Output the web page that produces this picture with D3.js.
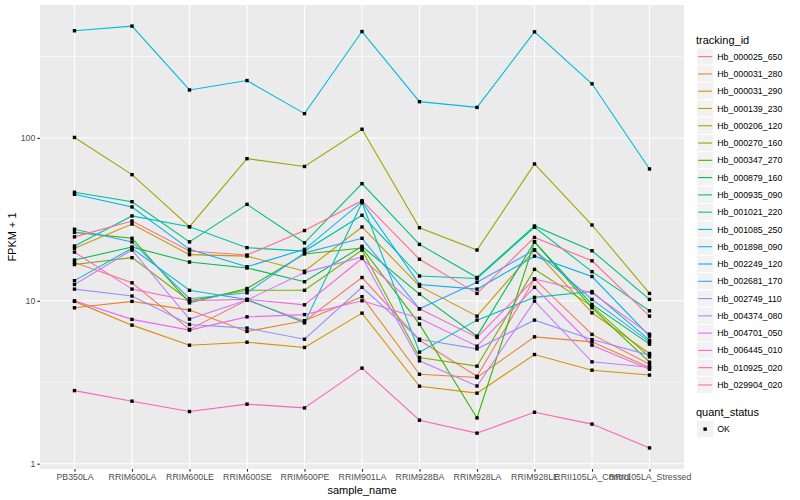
<!DOCTYPE html>
<html><head><meta charset="utf-8">
<script src="https://cdn.jsdelivr.net/npm/d3@7"></script>
<style>
body{margin:0;background:#fff}
svg{display:block}
text{font-family:"Liberation Sans",Arial,Helvetica,sans-serif}
</style>
</head><body>
<svg id="c" width="800" height="500"></svg>
<script>
// ---- data ----
const samples = ["PB350LA","RRIM600LA","RRIM600LE","RRIM600SE","RRIM600PE","RRIM901LA","RRIM928BA","RRIM928LA","RRIM928LE","RRII105LA_Control","RRII105LA_Stressed"];
const trackingIds = ["Hb_000025_650","Hb_000031_280","Hb_000031_290","Hb_000139_230","Hb_000206_120","Hb_000270_160","Hb_000347_270","Hb_000879_160","Hb_000935_090","Hb_001021_220","Hb_001085_250","Hb_001898_090","Hb_002249_120","Hb_002681_170","Hb_002749_110","Hb_004374_080","Hb_004701_050","Hb_006445_010","Hb_010925_020","Hb_029904_020"];
const yTicks = [1, 10, 100];
const quantStatus = ["OK"];

const Hb_000025_650 = [17.2, 12.9, 6.67, 10.1, 7.50, 13.9, 5.73, 3.44, 13.6, 6.22, 4.08];
const Hb_000031_280 = [9.06, 9.92, 8.77, 6.49, 7.54, 10.6, 3.54, 3.38, 6.01, 5.60, 3.90];
const Hb_000031_290 = [9.92, 7.09, 5.34, 5.57, 5.17, 8.40, 2.99, 2.71, 4.68, 3.75, 3.50];
const Hb_000139_230 = [21.0, 29.6, 19.2, 18.8, 15.2, 28.4, 12.3, 8.05, 20.5, 8.44, 4.75];
const Hb_000206_120 = [100.7, 59.5, 28.5, 74.6, 66.8, 113.1, 28.1, 20.5, 69.2, 29.2, 11.1];
const Hb_000270_160 = [16.7, 18.4, 10.0, 11.6, 11.6, 20.5, 4.49, 3.97, 15.6, 9.28, 4.53];
const Hb_000347_270 = [26.3, 24.2, 9.72, 11.9, 19.4, 21.1, 7.19, 1.91, 23.0, 9.06, 4.20];
const Hb_000879_160 = [17.8, 21.4, 17.3, 15.9, 13.1, 21.6, 11.0, 6.07, 23.0, 9.50, 5.42];
const Hb_000935_090 = [46.4, 40.6, 23.0, 39.1, 22.7, 52.4, 22.2, 13.9, 28.8, 20.3, 10.2];
const Hb_001021_220 = [21.7, 33.2, 28.5, 21.2, 20.2, 33.5, 14.2, 13.7, 28.3, 15.1, 8.68];
const Hb_001085_250 = [13.3, 21.0, 11.6, 10.2, 7.32, 40.0, 4.84, 7.61, 10.5, 11.4, 5.73];
const Hb_001898_090 = [455, 486, 197, 225, 141, 450, 167, 154, 448, 215, 64.5];
const Hb_002249_120 = [45.1, 37.7, 20.7, 16.2, 20.7, 40.6, 12.6, 11.8, 18.8, 14.1, 6.07];
const Hb_002681_170 = [27.5, 23.0, 10.3, 11.2, 19.7, 24.2, 8.93, 13.0, 20.5, 10.2, 5.60];
const Hb_002749_110 = [11.8, 10.7, 7.16, 6.80, 5.81, 12.1, 5.81, 5.07, 7.61, 5.78, 4.64];
const Hb_004374_080 = [12.6, 20.5, 7.72, 10.1, 14.9, 18.6, 4.28, 3.00, 9.96, 4.22, 3.91];
const Hb_004701_050 = [10.0, 7.69, 6.61, 7.97, 8.23, 10.0, 7.81, 5.27, 12.1, 5.34, 3.80];
const Hb_006445_010 = [19.9, 11.8, 10.0, 10.2, 9.45, 18.2, 8.93, 5.96, 13.6, 11.2, 6.24];
const Hb_010925_020 = [2.81, 2.42, 2.09, 2.32, 2.20, 3.86, 1.85, 1.54, 2.07, 1.75, 1.25];
const Hb_029904_020 = [24.7, 30.9, 20.2, 19.1, 27.0, 41.2, 18.0, 11.1, 24.5, 17.6, 8.05];

const seriesValues = [Hb_000025_650,Hb_000031_280,Hb_000031_290,Hb_000139_230,Hb_000206_120,Hb_000270_160,Hb_000347_270,Hb_000879_160,Hb_000935_090,Hb_001021_220,Hb_001085_250,Hb_001898_090,Hb_002249_120,Hb_002681_170,Hb_002749_110,Hb_004374_080,Hb_004701_050,Hb_006445_010,Hb_010925_020,Hb_029904_020];

// ggplot2 default hue palette for 20 levels
const palette = ["#F8766D","#EA8331","#D89000","#C09B00","#A3A500","#7CAE00","#39B600","#00BB4E","#00BF7D","#00C1A3","#00BFC4","#00BAE0","#00B0F6","#35A2FF","#9590FF","#C77CFF","#E76BF3","#FA62DB","#FF62BC","#FF6C91"];

const series = trackingIds.map((id, i) => ({
  id, color: palette[i],
  points: samples.map((s, j) => ({sample: s, value: seriesValues[i][j]}))
}));

// ---- layout ----
const svg = d3.select("#c");
const P = {left: 40, right: 684, top: 5, bottom: 469};

const x = d3.scalePoint().domain(samples).range([P.left, P.right]).padding(0.6);
const allVals = seriesValues.flat();
const lo = Math.log10(d3.min(allVals)), hi = Math.log10(d3.max(allVals));
const pad = (hi - lo) * 0.05;
const y = d3.scaleLog().domain([10 ** (lo - pad), 10 ** (hi + pad)]).range([P.bottom, P.top]);

svg.append("rect").attr("width", 800).attr("height", 500).attr("fill", "#fff");
svg.append("rect").attr("x", P.left).attr("y", P.top)
  .attr("width", P.right - P.left).attr("height", P.bottom - P.top).attr("fill", "#EBEBEB");

// minor grid
const minor = [0.5, 1.5, 2.5].map(e => 10 ** e).filter(v => v >= y.domain()[0] && v <= y.domain()[1]);
svg.append("g").selectAll("line").data(minor).join("line")
  .attr("x1", P.left).attr("x2", P.right)
  .attr("y1", d => y(d)).attr("y2", d => y(d))
  .attr("stroke", "#fff").attr("stroke-width", 0.55);
// major grid
svg.append("g").selectAll("line").data(yTicks).join("line")
  .attr("x1", P.left).attr("x2", P.right)
  .attr("y1", d => y(d)).attr("y2", d => y(d))
  .attr("stroke", "#fff").attr("stroke-width", 1.1);
svg.append("g").selectAll("line").data(samples).join("line")
  .attr("x1", d => x(d)).attr("x2", d => x(d))
  .attr("y1", P.top).attr("y2", P.bottom)
  .attr("stroke", "#fff").attr("stroke-width", 1.1);

// lines
const line = d3.line().x(d => x(d.sample)).y(d => y(d.value));
svg.append("g").selectAll("path").data(series).join("path")
  .attr("d", d => line(d.points))
  .attr("fill", "none").attr("stroke", d => d.color).attr("stroke-width", 1.1);

// points
svg.append("g").selectAll("rect").data(series.flatMap(s => s.points)).join("rect")
  .attr("x", d => x(d.sample) - 1.7).attr("y", d => y(d.value) - 1.7)
  .attr("width", 3.4).attr("height", 3.4).attr("fill", "#000");

// axes
const yAxis = svg.append("g").attr("transform", `translate(${P.left},0)`)
  .call(d3.axisLeft(y).tickValues(yTicks).tickFormat(d3.format("d")).tickSize(2.7).tickPadding(2));
const xAxis = svg.append("g").attr("transform", `translate(0,${P.bottom})`)
  .call(d3.axisBottom(x).tickSize(2.7).tickPadding(2));
[yAxis, xAxis].forEach(g => {
  g.select(".domain").remove();
  g.selectAll(".tick line").attr("stroke", "#333333").attr("stroke-width", 1.1);
  g.selectAll(".tick text").attr("fill", "#4D4D4D").style("font-size", "8.8px");
});

// axis titles
svg.append("text").attr("x", (P.left + P.right) / 2).attr("y", 494)
  .attr("text-anchor", "middle").style("font-size", "11px").attr("fill", "#000").text("sample_name");
svg.append("text").attr("transform", `translate(16,${(P.top + P.bottom) / 2}) rotate(-90)`)
  .attr("text-anchor", "middle").style("font-size", "11px").attr("fill", "#000").text("FPKM + 1");

// legend: tracking_id
const L = svg.append("g");
L.append("text").attr("x", 696).attr("y", 44).style("font-size", "11px").text("tracking_id");
const keyH = 17.28, key0 = 48;
const items = L.selectAll("g.item").data(series).join("g").attr("class", "item")
  .attr("transform", (d, i) => `translate(696.5,${key0 + i * keyH})`);
items.append("rect").attr("width", keyH).attr("height", keyH)
  .attr("fill", "#F2F2F2").attr("stroke", "#fff").attr("stroke-width", 1);
items.append("line").attr("x1", 1.7).attr("x2", keyH - 1.7)
  .attr("y1", keyH / 2).attr("y2", keyH / 2)
  .attr("stroke", d => d.color).attr("stroke-width", 1.1);
items.append("text").attr("x", keyH + 3.5).attr("y", keyH / 2).attr("dy", "0.35em")
  .style("font-size", "8.8px").text(d => d.id);

// legend: quant_status
L.append("text").attr("x", 696).attr("y", 416).style("font-size", "11px").text("quant_status");
const q = L.selectAll("g.q").data(quantStatus).join("g").attr("class", "q")
  .attr("transform", (d, i) => `translate(696.5,${420.5 + i * keyH})`);
q.append("rect").attr("width", keyH).attr("height", keyH)
  .attr("fill", "#F2F2F2").attr("stroke", "#fff").attr("stroke-width", 1);
q.append("rect").attr("x", keyH / 2 - 1.7).attr("y", keyH / 2 - 1.7)
  .attr("width", 3.4).attr("height", 3.4).attr("fill", "#000");
q.append("text").attr("x", keyH + 3.5).attr("y", keyH / 2).attr("dy", "0.35em")
  .style("font-size", "8.8px").text(d => d);
</script>
</body></html>
